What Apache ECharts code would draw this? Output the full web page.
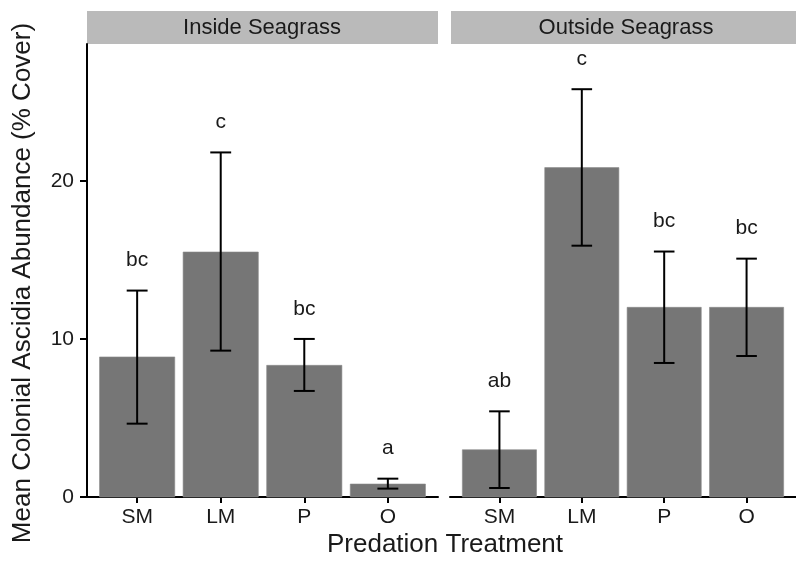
<!DOCTYPE html>
<html>
<head>
<meta charset="utf-8">
<script src="https://cdn.jsdelivr.net/npm/echarts@6/dist/echarts.min.js"></script>
<style>
  html, body { margin: 0; padding: 0; background: #fff; }
  #chart { width: 796px; height: 562px; }
</style>
</head>
<body>
<div id="chart"></div>
<script>
// Predation treatments on the x axis of each facet
const treatments = ['SM', 'LM', 'P', 'O'];
const facets = ['Inside Seagrass', 'Outside Seagrass'];

// Mean colonial ascidia cover (%) with error-bar limits and significance letters
const insideMean = [8.86, 15.5, 8.33, 0.82];
const insideLower = [4.64, 9.26, 6.71, 0.53];
const insideUpper = [13.06, 21.8, 10.0, 1.16];
const insideLetters = ['bc', 'c', 'bc', 'a'];

const outsideMean = [2.99, 20.84, 12.0, 12.0];
const outsideLower = [0.57, 15.9, 8.48, 8.92];
const outsideUpper = [5.42, 25.8, 15.53, 15.08];
const outsideLetters = ['ab', 'c', 'bc', 'bc'];

const yTicks = [0, 10, 20];

const FONT = 'Liberation Sans, Arial, sans-serif';
const TEXT = '#1a1a1a';
const BAR = '#767676';
const STRIP = '#bababa';

function rows(mean, lower, upper, letters) {
  return mean.map((m, i) => [i + 1, m, lower[i], upper[i], letters[i]]);
}

function renderBars(params, api) {
  const x = api.value(0);
  const top = api.coord([x, api.value(1)]);
  const base = api.coord([x, 0]);
  const w = api.size([0.9, 0])[0];
  return {
    type: 'rect',
    shape: { x: top[0] - w / 2, y: top[1], width: w, height: base[1] - top[1] },
    style: { fill: BAR, stroke: '#8a8a8a', lineWidth: 0.6 }
  };
}

function renderErrors(params, api) {
  const x = api.value(0);
  const lo = api.coord([x, api.value(2)]);
  const hi = api.coord([x, api.value(3)]);
  const cw = api.size([0.25, 0])[0] / 2;
  const ls = { stroke: '#000', lineWidth: 2 };
  return {
    type: 'group',
    children: [
      { type: 'line', shape: { x1: hi[0], y1: hi[1], x2: lo[0], y2: lo[1] }, style: ls },
      { type: 'line', shape: { x1: hi[0] - cw, y1: hi[1], x2: hi[0] + cw, y2: hi[1] }, style: ls },
      { type: 'line', shape: { x1: lo[0] - cw, y1: lo[1], x2: lo[0] + cw, y2: lo[1] }, style: ls },
      {
        type: 'text',
        x: hi[0], y: hi[1] - 30,
        style: {
          text: api.value(4), fill: TEXT, font: '21px ' + FONT,
          align: 'center', verticalAlign: 'middle'
        }
      }
    ]
  };
}

const Y_MAX = 28.66;

function xAxis(idx) {
  return {
    type: 'value', gridIndex: idx, min: 0.4, max: 4.6,
    splitLine: { show: false },
    axisLine: { show: true, lineStyle: { color: '#000', width: 2 } },
    axisTick: { show: true, customValues: [1, 2, 3, 4], length: 6, lineStyle: { color: '#000', width: 2 } },
    axisLabel: {
      customValues: [1, 2, 3, 4],
      formatter: v => treatments[Math.round(v) - 1] || '',
      color: TEXT, fontSize: 21, fontFamily: FONT, margin: 10
    }
  };
}

function yAxis(idx, visible) {
  return {
    type: 'value', gridIndex: idx, min: 0, max: Y_MAX,
    show: visible,
    splitLine: { show: false },
    axisLine: { show: visible, onZero: false, lineStyle: { color: '#000', width: 2 } },
    axisTick: { show: visible, customValues: yTicks, length: 7, lineStyle: { color: '#000', width: 2 } },
    axisLabel: {
      show: visible, customValues: yTicks,
      color: TEXT, fontSize: 21, fontFamily: FONT, margin: 13
    }
  };
}

const chart = echarts.init(document.getElementById('chart'), null, { renderer: 'canvas' });

chart.setOption({
  animation: false,
  backgroundColor: '#fff',
  grid: [
    { left: 87, top: 44, width: 351, height: 453 },
    { left: 450, top: 44, width: 351, height: 453 }
  ],
  xAxis: [xAxis(0), xAxis(1)],
  yAxis: [yAxis(0, true), yAxis(1, false)],
  series: [
    { type: 'custom', xAxisIndex: 0, yAxisIndex: 0, renderItem: renderBars,
      data: rows(insideMean, insideLower, insideUpper, insideLetters), z: 2 },
    { type: 'custom', xAxisIndex: 0, yAxisIndex: 0, renderItem: renderErrors,
      data: rows(insideMean, insideLower, insideUpper, insideLetters), z: 3 },
    { type: 'custom', xAxisIndex: 1, yAxisIndex: 1, renderItem: renderBars,
      data: rows(outsideMean, outsideLower, outsideUpper, outsideLetters), z: 2 },
    { type: 'custom', xAxisIndex: 1, yAxisIndex: 1, renderItem: renderErrors,
      data: rows(outsideMean, outsideLower, outsideUpper, outsideLetters), z: 3 }
  ],
  graphic: [
    // facet strips
    { type: 'rect', left: 87, top: 11, shape: { width: 351, height: 33 }, style: { fill: STRIP } },
    { type: 'rect', left: 451, top: 11, shape: { width: 351, height: 33 }, style: { fill: STRIP } },
    { type: 'text', x: 262, y: 28, style: { text: facets[0], fill: TEXT, font: '22px ' + FONT, align: 'center', verticalAlign: 'middle' } },
    { type: 'text', x: 626, y: 28, style: { text: facets[1], fill: TEXT, font: '22px ' + FONT, align: 'center', verticalAlign: 'middle' } },
    // axis titles
    { type: 'text', x: 445, y: 545, style: { text: 'Predation Treatment', fill: TEXT, font: '26px ' + FONT, align: 'center', verticalAlign: 'middle' } },
    { type: 'text', x: 23, y: 283, rotation: Math.PI / 2,
      style: { text: 'Mean Colonial Ascidia Abundance (% Cover)', fill: TEXT, font: '26px ' + FONT, align: 'center', verticalAlign: 'middle' } }
  ]
});
</script>
</body>
</html>
